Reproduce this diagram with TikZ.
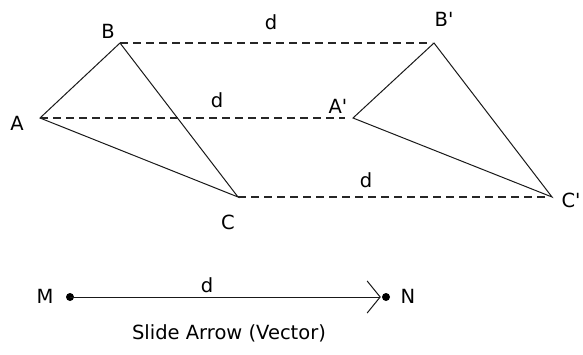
\documentclass[tikz,border=0pt]{standalone}
\usepackage{fontspec}
\newfontfamily\lblfont{DejaVu Sans}
\usetikzlibrary{arrows.meta}
\begin{document}
\begin{tikzpicture}[x=1pt,y=-1pt,
  edge/.style={line width=1pt,draw=black!90},
  dashline/.style={line width=1.2pt,draw=black!85,dash pattern=on 8pt off 5pt},
  lbl/.style={inner sep=0pt,font=\lblfont\fontsize{19.5}{22}\selectfont},
  dotnode/.style={circle,fill=black,inner sep=0pt,minimum size=8pt}]
\useasboundingbox (0,0) rectangle (583,354);
% vertices
\coordinate (A) at (40,118);
\coordinate (B) at (120,43);
\coordinate (C) at (238,197);
\coordinate (A2) at (353,118);
\coordinate (B2) at (434,43);
\coordinate (C2) at (552,197);
% triangles
\draw[edge,line join=miter] (A) -- (B) -- (C) -- cycle;
\draw[edge,line join=miter] (A2) -- (B2) -- (C2) -- cycle;
% dashed translation lines
\draw[dashline,shorten >=2pt] (B) -- (B2);
\draw[dashline,shorten >=8pt] (A) -- (A2);
\draw[dashline,shorten >=3pt] (C) -- (C2);
% labels
\node[lbl] (lA) at (17,123) {A};
\node[lbl] (lB) at (108,31) {B};
\node[lbl] (lC) at (228,222) {C};
\node[lbl] (lA2) at (338,106) {A'};
\node[lbl] (lB2) at (444,19) {B'};
\node[lbl] (lC2) at (571,200) {C'};
\node[lbl] (d1) at (271,22) {d};
\node[lbl] (d2) at (217,100) {d};
\node[lbl] (d3) at (366,180) {d};
% vector
\node[dotnode] (M) at (70,297) {};
\node[dotnode] (N) at (386,297) {};
\draw[edge,-{Straight Barb[length=13pt,width=32pt,line width=1pt]},shorten >=1pt] (M.center) -- (N.west);
\node[lbl] (lM) at (45,296) {M};
\node[lbl] (lN) at (408,296) {N};
\node[lbl] (d4) at (207,285) {d};
\node[lbl] (cap) at (229,333) {Slide Arrow (Vector)};
\end{tikzpicture}
\end{document}
